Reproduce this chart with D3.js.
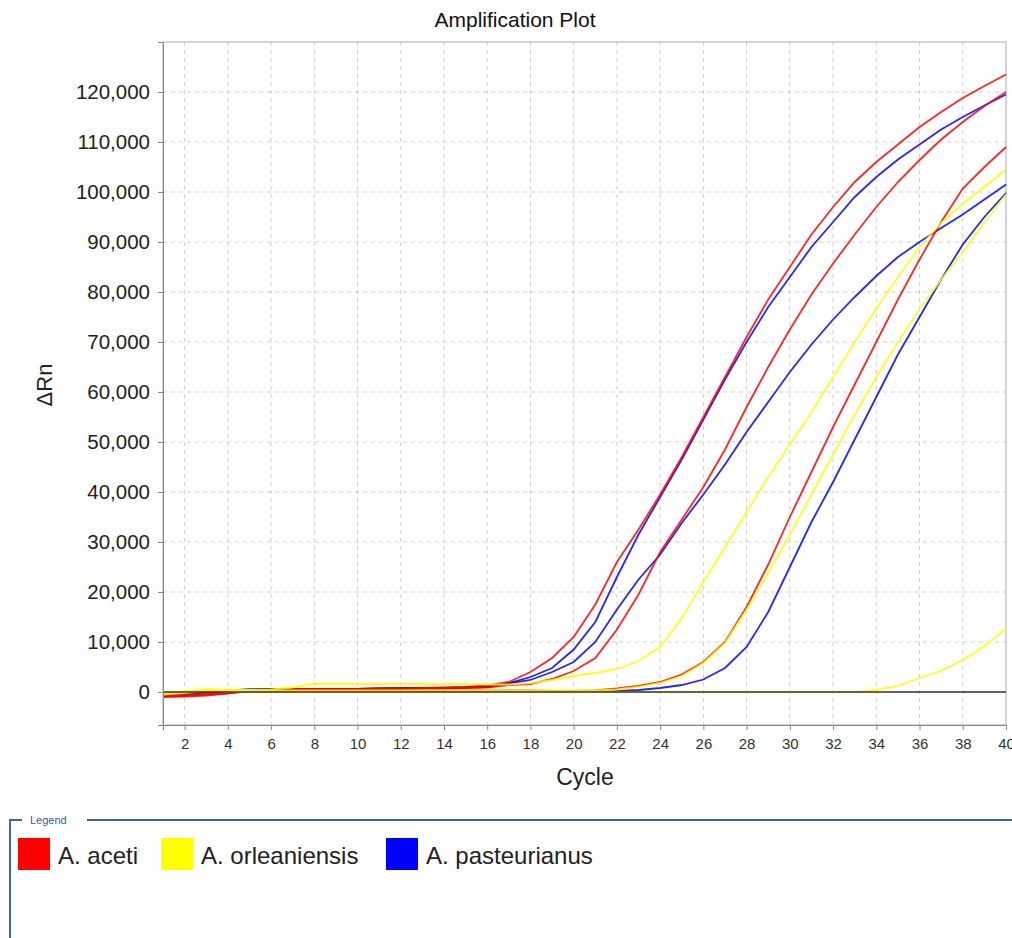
<!DOCTYPE html>
<html>
<head>
<meta charset="utf-8">
<script src="https://cdn.jsdelivr.net/npm/d3@7"></script>
<style>
  body { margin: 0; background: #fff; }
  svg { display: block; font-family: "Liberation Sans", Arial, sans-serif; }
</style>
</head>
<body>
<svg id="chart"></svg>
<script>
const WIDTH = 1012;
const HEIGHT = 938;

// cycles 1..40
var cycles = [1,2,3,4,5,6,7,8,9,10,11,12,13,14,15,16,17,18,19,20,
              21,22,23,24,25,26,27,28,29,30,31,32,33,34,35,36,37,38,39,40];

var xTicks = [2,4,6,8,10,12,14,16,18,20,22,24,26,28,30,32,34,36,38,40];
var yTicks = [0,10000,20000,30000,40000,50000,60000,70000,80000,90000,100000,110000,120000];

var species = ['A. aceti', 'A. orleaniensis', 'A. pasteurianus'];
var speciesColors = ['#ff0000', '#ffff00', '#0000ff'];

// ΔRn per cycle
var aceti1 = [-800,-800,-500,-200,300,500,500,600,600,600,700,700,800,900,1000,1300,2000,4000,6800,11000,
              17500,26000,32500,39500,47000,55000,63000,71000,78500,85000,91500,97000,102000,106000,109500,113000,116000,118800,121200,123500];
var aceti2 = [-1000,-900,-700,-300,200,400,500,500,500,500,600,600,700,700,800,900,1400,1600,2600,4200,
              6800,12500,19500,28000,34500,41000,48500,57000,65000,72500,79500,85700,91500,97000,102000,106400,110500,114000,117200,120000];
var aceti3 = [-700,-600,-400,-100,100,200,200,200,200,200,200,200,300,300,300,300,300,300,200,200,
              300,700,1200,2000,3500,6000,10000,17000,25500,35000,44000,53000,61500,70000,78500,86500,94000,100700,105000,109000];

var orlean1 = [-200,0,500,400,400,500,900,1600,1600,1600,1600,1600,1600,1600,1600,1500,1500,1800,2400,3200,
               3800,4600,6200,9000,14800,22000,29000,36000,43000,49500,56000,63000,70000,76700,83000,89000,93800,97700,101000,104500];
var orlean2 = [-300,200,500,300,300,300,300,300,300,300,300,300,300,300,300,300,300,300,300,300,
               300,500,1000,1800,3200,5800,9800,16500,23800,31500,39500,47500,55500,63000,70000,76500,82500,88000,94000,99500];
var orlean3 = [-500,-200,200,100,0,0,0,0,0,0,0,0,0,0,0,0,0,0,0,0,
               0,0,0,0,0,0,0,0,0,0,0,0,0,400,1200,2800,4200,6400,9200,12700];

var past1 = [-400,-300,0,300,500,600,600,600,600,600,700,800,800,800,900,1200,1800,3000,4800,8500,
             14000,23000,31500,39000,46500,54500,62500,70000,77000,83000,89000,94000,99000,103000,106500,109500,112500,115000,117300,119500];
var past2 = [-300,-200,100,300,500,600,600,600,600,600,700,700,800,800,900,1000,1700,2400,4000,6000,
             10000,16500,22500,27500,33800,39500,45500,52000,58000,64000,69500,74500,79000,83200,87000,90000,92800,95500,98500,101500];
var past3 = [-600,-400,-100,0,100,200,200,200,200,200,200,200,200,200,200,200,200,100,100,100,
             100,200,400,800,1400,2500,4800,9000,16000,25000,34000,42000,50500,59000,67500,75000,82500,89500,95000,99800];

// drawing order: blue, red, yellow
var curves = [
  {sp: 2, values: past1}, {sp: 2, values: past2}, {sp: 2, values: past3},
  {sp: 0, values: aceti1}, {sp: 0, values: aceti2}, {sp: 0, values: aceti3},
  {sp: 1, values: orlean1}, {sp: 1, values: orlean2}, {sp: 1, values: orlean3}
];

var svg = d3.select('#chart')
    .attr('width', WIDTH)
    .attr('height', HEIGHT);

var x = d3.scaleLinear().domain([1, 40]).range([163, 1006]);
var y = d3.scaleLinear().domain([-6600, 130000]).range([725, 42]);

// title
svg.append('text')
    .attr('x', 515).attr('y', 27)
    .attr('text-anchor', 'middle')
    .attr('font-size', 21)
    .attr('fill', '#111')
    .text('Amplification Plot');

// grid
var grid = svg.append('g').attr('stroke', '#cfcfcf').attr('stroke-dasharray', '4,4').attr('stroke-width', 1);
grid.selectAll('line.v').data(xTicks.filter(function(d){ return d < 40; })).enter()
    .append('line').attr('class', 'v')
    .attr('x1', function(d){ return x(d); }).attr('x2', function(d){ return x(d); })
    .attr('y1', 42).attr('y2', 725);
grid.selectAll('line.h').data(yTicks).enter()
    .append('line').attr('class', 'h')
    .attr('x1', 163).attr('x2', 1006)
    .attr('y1', function(d){ return y(d); }).attr('y2', function(d){ return y(d); });

// frame
svg.append('rect')
    .attr('x', 163).attr('y', 42)
    .attr('width', 1006 - 163).attr('height', 725 - 42)
    .attr('fill', 'none').attr('stroke', '#c8c8c8').attr('stroke-width', 1.5);

// curves
var line = d3.line()
    .x(function(d, i){ return x(cycles[i]); })
    .y(function(d){ return y(d); });

svg.append('g').selectAll('path').data(curves).enter()
    .append('path')
    .attr('d', function(d){ return line(d.values); })
    .attr('fill', 'none')
    .attr('stroke', function(d){ return speciesColors[d.sp]; })
    .attr('stroke-width', 1.8)
    .attr('stroke-opacity', 0.85);

// threshold at zero
svg.append('line')
    .attr('x1', x(1)).attr('x2', x(40))
    .attr('y1', y(0)).attr('y2', y(0))
    .attr('stroke', '#333').attr('stroke-width', 1.6);

// axes
var yAxis = d3.axisLeft(y).tickValues(yTicks).tickFormat(d3.format(',')).tickSize(5).tickPadding(8);
var gy = svg.append('g').attr('transform', 'translate(163,0)').call(yAxis);
gy.select('.domain').attr('stroke', '#888');
gy.selectAll('.tick line').attr('stroke', '#888');
gy.selectAll('.tick text').attr('font-size', 20.5).attr('fill', '#222').attr('font-family', '"Liberation Sans", Arial, sans-serif');

var xAxis = d3.axisBottom(x).tickValues(xTicks).tickSize(5).tickPadding(8);
var gx = svg.append('g').attr('transform', 'translate(0,725)').call(xAxis);
gx.select('.domain').attr('stroke', '#888');
gx.selectAll('.tick line').attr('stroke', '#888');
gx.selectAll('.tick text').attr('font-size', 15).attr('fill', '#333').attr('font-family', '"Liberation Sans", Arial, sans-serif');

// axis titles
svg.append('text')
    .attr('x', 585).attr('y', 785)
    .attr('text-anchor', 'middle')
    .attr('font-size', 23)
    .attr('fill', '#222')
    .text('Cycle');

svg.append('text')
    .attr('transform', 'translate(52,385) rotate(-90)')
    .attr('text-anchor', 'middle')
    .attr('font-size', 22)
    .attr('fill', '#222')
    .text('ΔRn');

// legend box
var lg = svg.append('g');
lg.append('path')
    .attr('d', 'M22,820 H10 V938 M87,820 H1012')
    .attr('fill', 'none')
    .attr('stroke', '#3f6a8c')
    .attr('stroke-width', 2);
lg.append('text')
    .attr('x', 30).attr('y', 824)
    .attr('font-size', 11)
    .attr('fill', '#2a5fa6')
    .text('Legend');

var legendX = [18, 161, 386];
var item = lg.selectAll('g.item').data(species).enter()
    .append('g').attr('class', 'item')
    .attr('transform', function(d, i){ return 'translate(' + legendX[i] + ',838)'; });
item.append('rect')
    .attr('width', 32).attr('height', 32)
    .attr('fill', function(d, i){ return speciesColors[i]; });
item.append('text')
    .attr('x', 40).attr('y', 26)
    .attr('font-size', 24)
    .attr('fill', '#222')
    .text(function(d){ return d; });
</script>
</body>
</html>
